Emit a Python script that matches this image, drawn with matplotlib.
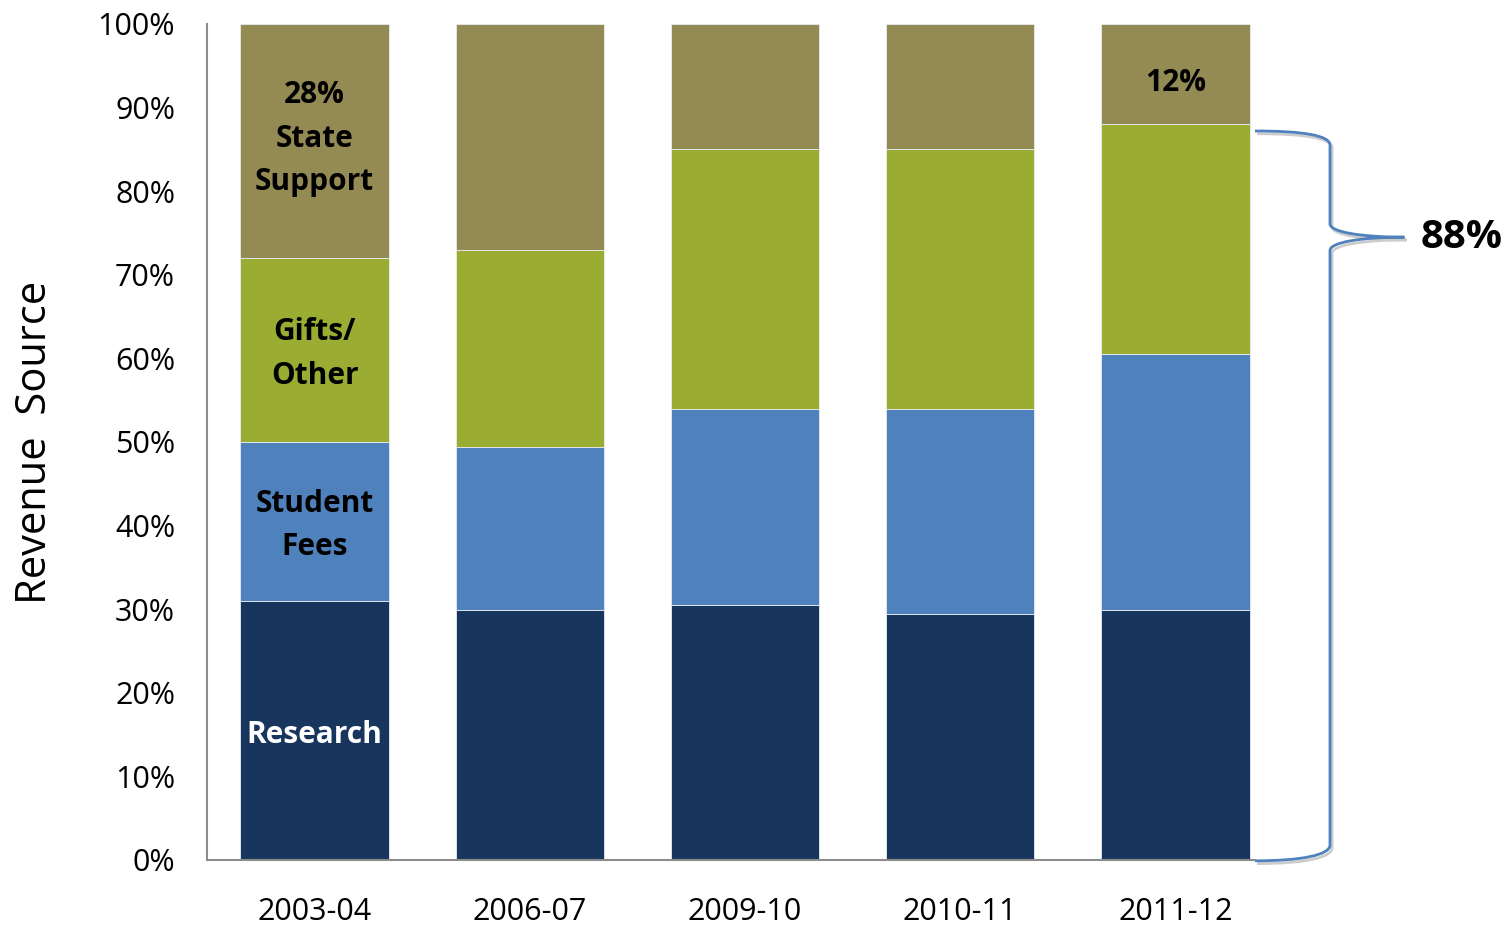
import numpy as np
import matplotlib.pyplot as plt
from matplotlib.path import Path
from matplotlib.patches import PathPatch
from matplotlib.transforms import blended_transform_factory
import matplotlib.patheffects as pe

plt.rcParams['font.family'] = ['Open Sans', 'DejaVu Sans']

years = ['2003-04', '2006-07', '2009-10', '2010-11', '2011-12']
research = [31.0, 29.9, 30.5, 29.4, 29.9]
student_fees = [19.0, 19.5, 23.4, 24.5, 30.6]
gifts_other = [22.0, 23.6, 31.1, 31.1, 27.5]
state_support = [28.0, 27.0, 15.0, 15.0, 12.0]

series = [research, student_fees, gifts_other, state_support]
colors = ['#18365D', '#4F81BD', '#9BAC33', '#948A54']

# labels placed on the first bar (and 12% on the last)
first_labels = ['Research', 'Student\nFees', 'Gifts/\nOther', '28%\nState\nSupport']
first_label_colors = ['white', 'black', 'black', 'black']
label_nudge = [-0.5, -0.5, -0.5, 0.3]

fig = plt.figure(figsize=(15.12, 9.26), dpi=100)
ax = fig.add_axes([0.1369, 0.0713, 0.6931, 0.9028])

x = np.arange(len(years))
bottom = np.zeros(len(years))
for vals, c in zip(series, colors):
    ax.bar(x, vals, width=0.69, bottom=bottom, color=c,
           edgecolor='#e8ecf2', linewidth=0.6)
    bottom += np.array(vals)

# segment labels
seg_bottom = 0
for vals, lab, lc, dy in zip(series, first_labels, first_label_colors, label_nudge):
    ax.text(0, seg_bottom + vals[0] / 2 + dy, lab, ha='center', va='center',
            fontsize=21.5, fontweight='bold', color=lc, linespacing=1.6)
    seg_bottom += vals[0]

last_top = research[-1] + student_fees[-1] + gifts_other[-1]
ax.text(4, last_top + state_support[-1] / 2 - 1.0, '%d%%' % state_support[-1],
        ha='center', va='center', fontsize=21.5, fontweight='bold')

ax.set_xlim(-0.5, 4.37)
ax.set_ylim(0, 100)
ax.set_yticks(np.arange(0, 101, 10))
ax.set_yticklabels(['%d%%' % v for v in range(0, 101, 10)], fontsize=22)
ax.set_xticks(x)
ax.set_xticklabels(years, fontsize=22)
ax.tick_params(axis='x', length=0, pad=27)
ax.tick_params(axis='y', length=0, pad=23)
for s in ['top', 'right']:
    ax.spines[s].set_visible(False)
for s in ['left', 'bottom']:
    ax.spines[s].set_color('#8c8c8c')
    ax.spines[s].set_linewidth(1.5)
ax.set_ylabel('Revenue  Source', fontsize=30, labelpad=30)

# curly brace for 88%
tr = blended_transform_factory(ax.transAxes, ax.transData)
x0, xv, xt = 1.0, 1.0716, 1.1426
ytop = last_top - 0.8
ytip = 74.5
verts = [
    (x0, ytop),
    (x0 + 0.045, ytop), (xv, ytop - 0.5), (xv, ytop - 1.7),
    (xv, ytip + 1.6),
    (xv, ytip + 0.6), (xv + 0.03, ytip), (xt, ytip),
    (xv + 0.03, ytip), (xv, ytip - 0.6), (xv, ytip - 1.6),
    (xv, 1.8),
    (xv, 0.6), (x0 + 0.045, -0.1), (x0, -0.1),
]
codes = [Path.MOVETO,
         Path.CURVE4, Path.CURVE4, Path.CURVE4,
         Path.LINETO,
         Path.CURVE4, Path.CURVE4, Path.CURVE4,
         Path.CURVE4, Path.CURVE4, Path.CURVE4,
         Path.LINETO,
         Path.CURVE4, Path.CURVE4, Path.CURVE4]
brace = PathPatch(Path(verts, codes), transform=tr, fill=False,
                  edgecolor='#4F81BD', linewidth=2.0, clip_on=False,
                  path_effects=[pe.SimpleLineShadow(offset=(1.5, -2), alpha=0.2),
                                pe.Normal()])
ax.add_patch(brace)
ax.text(1.158, ytip, '88%', transform=tr, ha='left', va='center',
        fontsize=29, fontweight='bold')

fig.savefig('out.png', dpi=100)
